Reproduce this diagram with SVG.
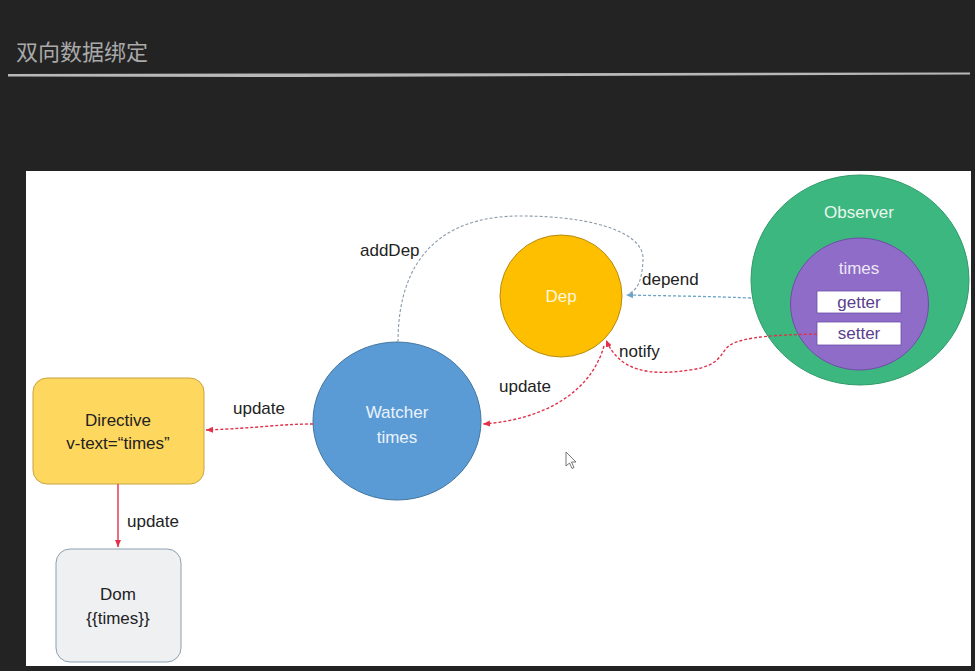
<svg xmlns="http://www.w3.org/2000/svg" width="975" height="671" viewBox="0 0 975 671">
<defs>
<style>
.lbl{font-family:"Liberation Sans","Noto Sans",sans-serif;font-size:17px;fill:#222}
.in{font-family:"Liberation Sans","Noto Sans",sans-serif;font-size:17px;text-anchor:middle}
.red{fill:none;stroke:#e0314a;stroke-width:1.4;stroke-dasharray:3 2}
.blue{fill:none;stroke:#6aa3c7;stroke-width:1.3;stroke-dasharray:3 2}
.gray{fill:none;stroke:#8a9aa8;stroke-width:1.1;stroke-dasharray:3 2}
</style>
<marker id="ar" markerWidth="8" markerHeight="8" refX="7" refY="4" orient="auto" markerUnits="userSpaceOnUse"><path d="M0,1 L7,4 L0,7 Z" fill="#e0314a"/></marker>
<marker id="ab" markerWidth="8" markerHeight="8" refX="7" refY="4" orient="auto" markerUnits="userSpaceOnUse"><path d="M0,1 L7,4 L0,7 Z" fill="#6aa3c7"/></marker>
</defs>
<rect width="975" height="671" fill="#232323"/>
<g id="title">
<text x="16" y="60" font-family="'Noto Sans CJK SC',sans-serif" font-size="22" fill="#a9a9a9">双向数据绑定</text>
<path d="M8,74 L300,73.5 L970,72.5 L970,74.5 L300,77 L8,76.5 Z" fill="#b8b8b8"/>
</g>
<rect x="26" y="171" width="945" height="495" fill="#ffffff"/>
<g id="observer">
<ellipse cx="860" cy="280" rx="109" ry="105" fill="#3cb77f" stroke="#2f9a68" stroke-width="1"/>
<text class="in" x="859" y="218" fill="#eaf6ee">Observer</text>
</g>
<g id="times">
<ellipse cx="859.5" cy="304" rx="69" ry="66" fill="#8e6cc8" stroke="#6d4fa8" stroke-width="1"/>
<text class="in" x="859" y="274" fill="#ece6f6">times</text>
</g>
<g id="getter">
<rect x="817" y="291" width="84" height="22" fill="#ffffff" stroke="#6d4fa8" stroke-width="0.8"/>
<text class="in" x="859" y="308" fill="#5a3f8e">getter</text>
</g>
<g id="setter">
<rect x="817" y="322" width="84" height="23" fill="#ffffff" stroke="#6d4fa8" stroke-width="0.8"/>
<text class="in" x="859" y="339" fill="#5a3f8e">setter</text>
</g>
<g id="dep">
<circle cx="561" cy="296" r="61" fill="#fdbf00" stroke="#b88a10" stroke-width="1"/>
<text class="in" x="561" y="302" fill="#fff6dc">Dep</text>
</g>
<g id="watcher">
<ellipse cx="397" cy="421" rx="84" ry="79" fill="#5b9bd5" stroke="#43759f" stroke-width="1"/>
<text class="in" x="397" y="418" fill="#eaf2fb">Watcher</text>
<text class="in" x="397" y="443" fill="#eaf2fb">times</text>
</g>
<g id="directive">
<rect x="33" y="378" width="171" height="106" rx="14" fill="#fed75f" stroke="#c7a443" stroke-width="1"/>
<text class="in" x="118" y="426" fill="#222">Directive</text>
<text class="in" x="118" y="449" fill="#222">v-text=“times”</text>
</g>
<g id="dom">
<rect x="56" y="549" width="125" height="113" rx="14" fill="#eef0f2" stroke="#8d9fb0" stroke-width="1"/>
<text class="in" x="118" y="600" fill="#222">Dom</text>
<text class="in" x="118" y="624" fill="#222">{{times}}</text>
</g>
<g id="connectors">
<path class="red" d="M313,424 C280,424 260,428 206,430" marker-end="url(#ar)"/>
<path d="M118,484 L118,547" stroke="#e0314a" stroke-width="1.4" fill="none" marker-end="url(#ar)"/>
<path class="red" d="M604,346 C590,395 540,420 483,424" marker-end="url(#ar)"/>
<path class="red" d="M817,334 C780,335 745,336 730,345 C720,352 722,366 690,370 C650,376 620,372 606,340" marker-end="url(#ar)"/>
<path class="blue" d="M751,298 C700,296 670,296 626,295" marker-end="url(#ab)"/>
<path class="gray" d="M398,342 C398,260 440,216 520,216 C600,216 645,235 643,260 C642,280 638,290 628,294"/>
<text class="lbl" x="360" y="256">addDep</text>
<text class="lbl" x="642" y="285">depend</text>
<text class="lbl" x="619" y="357">notify</text>
<text class="lbl" x="499" y="392">update</text>
<text class="lbl" x="233" y="414">update</text>
<text class="lbl" x="127" y="527">update</text>
</g>
<path d="M566,452 L566,466 L569.5,463 L572,468.5 L574,467.5 L571.5,462 L576,462 Z" fill="#fff" stroke="#555" stroke-width="0.8"/>
</svg>
